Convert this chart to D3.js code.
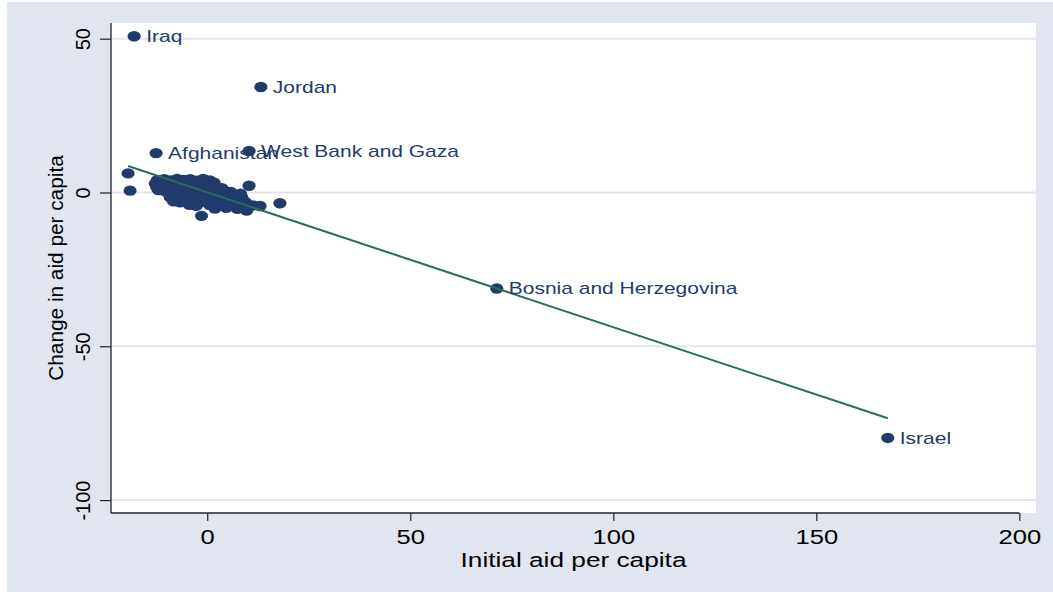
<!DOCTYPE html>
<html>
<head>
<meta charset="utf-8">
<script src="https://cdn.jsdelivr.net/npm/d3@7"></script>
<style>
  html, body { margin: 0; padding: 0; background: #ffffff; }
  svg { display: block; }
  text { font-family: "Liberation Sans", Arial, sans-serif; }
</style>
</head>
<body>
<svg id="chart" width="1053" height="592"></svg>
<script>
// Labelled countries: initial aid per capita vs. change in aid per capita
const labelNames = ["Iraq", "Jordan", "Afghanistan", "West Bank and Gaza", "Bosnia and Herzegovina", "Israel"];
const labelInitial = [-18.0, 13.2, -12.6, 10.3, 71.3, 167.6];
const labelChange  = [50.8, 34.3, 12.8, 13.5, -31.2, -79.8];

// Remaining countries (unlabelled markers)
const otherInitial = [
  -19.5, -19.0, 10.3, 17.9, 13.0, 9.7, -1.4,
  -12.3, -10.6, -9.0, -7.4, -5.9, -4.2, -2.6, -1.0, 0.6,
  -12.8, -11.1, -9.7, -8.1, -6.3, -4.9, -3.1, -1.7, 0.2, 1.7,
  -12.4, -10.8, -9.2, -7.6, -6.0, -4.4, -2.8, -1.2, 0.4, 2.0, 3.6,
  -12.0, -10.3, -8.8, -7.0, -5.4, -3.8, -2.2, -0.6, 1.0, 2.6, 4.2, 5.8,
  -9.4, -7.8, -6.2, -4.6, -3.0, -1.4, 0.2, 1.8, 3.4, 5.0, 6.6, 8.2,
  -9.1, -7.5, -5.9, -4.3, -2.7, -1.1, 0.5, 2.1, 3.7, 5.3, 6.9, 8.5,
  -8.3, -6.7, -5.1, -3.5, -1.9, -0.3, 1.3, 2.9, 4.5, 6.1, 7.7, 9.3,
  -4.4, -2.7, 0.6, 2.2, 3.8, 5.4, 7.0, 8.6, 11.2,
  1.9, 4.7, 7.4
];
const otherChange = [
  6.2, 0.6, 2.2, -3.5, -4.4, -5.9, -7.6,
  4.0, 4.3, 3.9, 4.4, 4.1, 4.3, 3.8, 4.4, 3.9,
  2.9, 3.2, 2.7, 3.1, 2.8, 3.3, 2.6, 3.0, 2.9, 3.2,
  1.6, 2.0, 1.5, 1.9, 1.7, 2.1, 1.6, 1.8, 1.5, 2.0, 1.4,
  0.8, 0.4, 0.7, 0.5, 0.9, 0.3, 0.7, 0.5, 0.8, 0.4, 0.6, 0.2,
  -0.5, -0.8, -0.4, -0.7, -0.5, -0.9, -0.6, -0.3, -0.8, -0.5, -0.7, -0.4,
  -1.6, -2.0, -1.7, -1.9, -1.5, -2.1, -1.8, -1.6, -2.0, -1.7, -1.9, -1.5,
  -2.9, -3.2, -2.8, -3.1, -3.3, -2.9, -3.2, -2.8, -3.1, -3.3, -2.9, -3.0,
  -4.0, -4.3, -4.1, -4.4, -4.0, -4.3, -4.1, -4.4, -4.2,
  -5.2, -5.0, -5.3
];

// Linear fit of change on initial aid
const fitIntercept = 0.05;
const fitSlope = -0.4383;

const xTicks = [0, 50, 100, 150, 200];
const yTicks = [50, 0, -50, -100];
const xTitle = "Initial aid per capita";
const yTitle = "Change in aid per capita";

const navy = "#233b6c";
const fitColor = "#2c6c58";
const panelBg = "#e1e5ef";
const stretch = 1.28;

const svg = d3.select("#chart");

const plot = { left: 111, right: 1036, top: 23, bottom: 513 };

const x = d3.scaleLinear().domain([-23.7, 204.1]).range([plot.left, plot.right]);
const y = d3.scaleLinear().domain([-104.2, 55.1]).range([plot.bottom, plot.top]);

// plain hyphen for negative tick labels
const tickFmt = d => String(d);

// graph region background
svg.append("rect").attr("x", 7).attr("y", 2).attr("width", 1046).attr("height", 590).attr("fill", panelBg);
// plot region
svg.append("rect")
  .attr("x", plot.left).attr("y", plot.top)
  .attr("width", plot.right - plot.left).attr("height", plot.bottom - plot.top)
  .attr("fill", "#ffffff");

// horizontal grid lines
svg.append("g").selectAll("line").data(yTicks).join("line")
  .attr("x1", plot.left).attr("x2", plot.right)
  .attr("y1", d => y(d)).attr("y2", d => y(d))
  .attr("stroke", panelBg).attr("stroke-width", 2);

// x axis
const xAxis = svg.append("g")
  .attr("transform", `translate(0,${plot.bottom})`)
  .call(d3.axisBottom(x).tickValues(xTicks).tickSize(8).tickSizeOuter(0).tickFormat(tickFmt));
xAxis.select(".domain").remove();
xAxis.selectAll(".tick line").attr("stroke", "#222").attr("stroke-width", 1.2);
xAxis.selectAll(".tick text")
  .attr("y", null).attr("dy", null)
  .attr("transform", `translate(0,31) scale(${stretch},1)`)
  .attr("fill", "#000").style("font-size", "20px")
  .style("font-family", "'Liberation Sans', Arial, sans-serif");
svg.append("line")
  .attr("x1", plot.left).attr("x2", x(200))
  .attr("y1", plot.bottom).attr("y2", plot.bottom)
  .attr("stroke", "#222").attr("stroke-width", 1.3);

// y axis
const yAxis = svg.append("g")
  .attr("transform", `translate(${plot.left},0)`)
  .call(d3.axisLeft(y).tickValues(yTicks).tickSize(11).tickSizeOuter(0).tickFormat(tickFmt));
yAxis.select(".domain").remove();
yAxis.selectAll(".tick line").attr("stroke", "#222").attr("stroke-width", 1.2);
yAxis.selectAll(".tick text")
  .attr("x", null).attr("dy", null)
  .attr("text-anchor", "middle")
  .attr("transform", "translate(-21,0) rotate(-90)")
  .attr("fill", "#000").style("font-size", "20px")
  .style("font-family", "'Liberation Sans', Arial, sans-serif");
svg.append("line")
  .attr("x1", plot.left).attr("x2", plot.left)
  .attr("y1", plot.top).attr("y2", plot.bottom)
  .attr("stroke", "#222").attr("stroke-width", 1.3);

// axis titles
svg.append("text")
  .attr("transform", `translate(${(plot.left + plot.right) / 2},567) scale(${stretch},1)`)
  .attr("text-anchor", "middle").attr("fill", "#000")
  .style("font-size", "20.5px").text(xTitle);
svg.append("text")
  .attr("transform", `translate(63,${(plot.top + plot.bottom) / 2}) rotate(-90)`)
  .attr("text-anchor", "middle").attr("fill", "#000")
  .style("font-size", "20.8px").text(yTitle);

// markers
const others = otherInitial.map((v, i) => ({ xv: v, yv: otherChange[i] }));
const labelled = labelNames.map((n, i) => ({ name: n, xv: labelInitial[i], yv: labelChange[i] }));

const markers = svg.append("g");
markers.selectAll("ellipse.other").data(others).join("ellipse")
  .attr("class", "other")
  .attr("cx", d => x(d.xv)).attr("cy", d => y(d.yv))
  .attr("rx", 6.6).attr("ry", 5.2).attr("fill", navy);
markers.selectAll("ellipse.lab").data(labelled).join("ellipse")
  .attr("class", "lab")
  .attr("cx", d => x(d.xv)).attr("cy", d => y(d.yv))
  .attr("rx", 6.6).attr("ry", 5.2).attr("fill", navy);

// fitted line over the observed range
const allX = otherInitial.concat(labelInitial);
const xMin = d3.min(allX), xMax = d3.max(allX);
svg.append("line")
  .attr("x1", x(xMin)).attr("y1", y(fitIntercept + fitSlope * xMin))
  .attr("x2", x(xMax)).attr("y2", y(fitIntercept + fitSlope * xMax))
  .attr("stroke", fitColor).attr("stroke-width", 2);

// country labels at 3 o'clock
svg.append("g").selectAll("text").data(labelled).join("text")
  .attr("transform", d => `translate(${x(d.xv) + 12},${y(d.yv) + 6}) scale(${stretch},1)`)
  .attr("fill", navy).style("font-size", "16.4px")
  .text(d => d.name);
</script>
</body>
</html>
